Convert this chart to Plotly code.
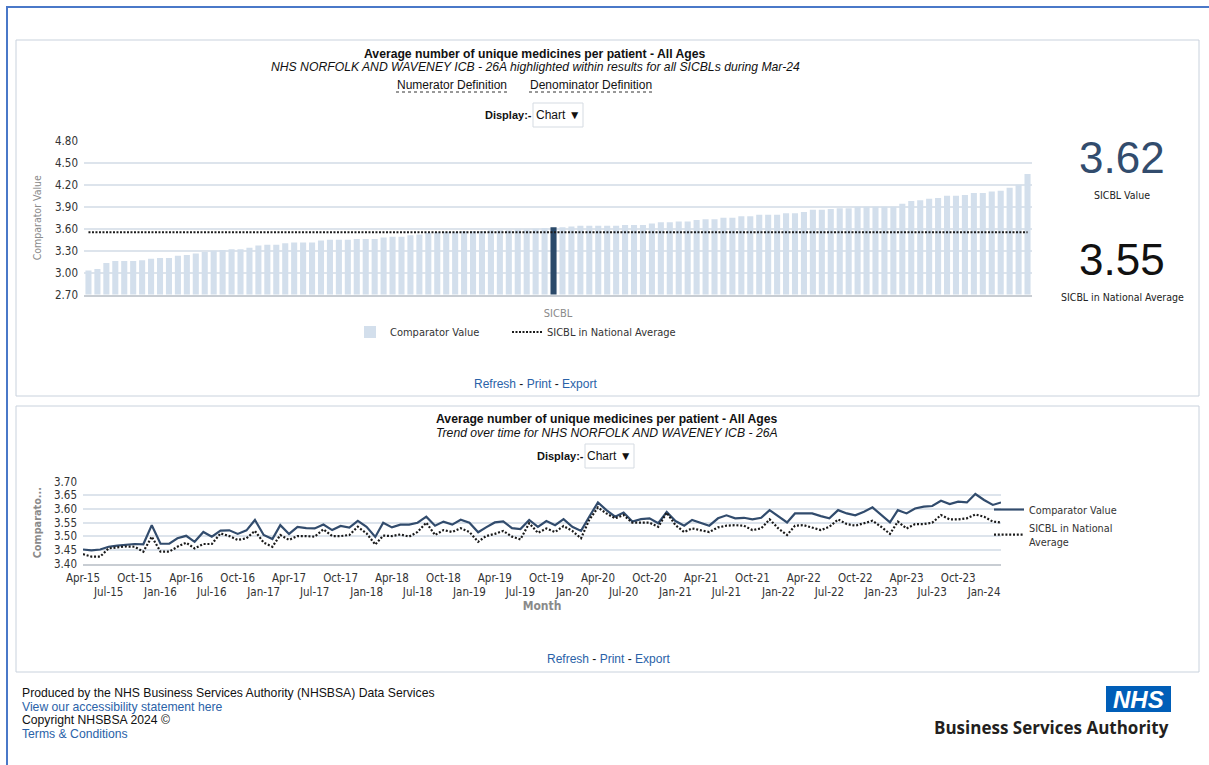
import plotly.graph_objects as go
import pandas as pd

# ---------------- DATA ----------------
sicbl_values = [
    3.03, 3.05, 3.13, 3.16, 3.16, 3.16, 3.17, 3.19, 3.20, 3.20,
    3.23, 3.24, 3.26, 3.28, 3.30, 3.31, 3.32, 3.32, 3.34, 3.37,
    3.38, 3.38, 3.40, 3.41, 3.41, 3.41, 3.44, 3.45, 3.45, 3.45,
    3.46, 3.46, 3.46, 3.48, 3.49, 3.49, 3.51, 3.52, 3.54, 3.55,
    3.56, 3.56, 3.57, 3.57, 3.57, 3.58, 3.58, 3.58, 3.59, 3.59,
    3.60, 3.61, 3.62, 3.62, 3.63, 3.64, 3.64, 3.64, 3.64, 3.64,
    3.65, 3.65, 3.65, 3.67, 3.69, 3.69, 3.70, 3.70, 3.72, 3.73,
    3.73, 3.75, 3.75, 3.77, 3.77, 3.79, 3.79, 3.79, 3.81, 3.81,
    3.83, 3.86, 3.86, 3.87, 3.88, 3.88, 3.90, 3.90, 3.90, 3.90,
    3.90, 3.94, 3.98, 3.99, 4.01, 4.02, 4.05, 4.05, 4.06, 4.09,
    4.09, 4.11, 4.12, 4.16, 4.20, 4.35,
]
sicbl_names = [f"SICBL {i + 1}" for i in range(len(sicbl_values))]
highlight_index = 52
sicbl_value = 3.62
national_average = 3.55

bar_y_ticks = [2.70, 3.00, 3.30, 3.60, 3.90, 4.20, 4.50, 4.80]

months = pd.date_range("2015-04-01", "2024-03-01", freq="MS")

comparator_trend = [
    3.452, 3.449, 3.452, 3.462, 3.466, 3.470, 3.472, 3.471, 3.541, 3.473,
    3.473, 3.493, 3.502, 3.480, 3.516, 3.499, 3.521, 3.522, 3.509, 3.522,
    3.560, 3.505, 3.490, 3.541, 3.509, 3.535, 3.530, 3.529, 3.543, 3.523,
    3.538, 3.532, 3.557, 3.535, 3.498, 3.550, 3.533, 3.543, 3.543, 3.550,
    3.572, 3.539, 3.554, 3.543, 3.561, 3.550, 3.515, 3.533, 3.551, 3.555,
    3.530, 3.527, 3.560, 3.535, 3.556, 3.541, 3.563, 3.535, 3.520, 3.572,
    3.624, 3.596, 3.572, 3.587, 3.554, 3.563, 3.566, 3.548, 3.589, 3.556,
    3.539, 3.560, 3.550, 3.539, 3.566, 3.577, 3.566, 3.568, 3.562, 3.568,
    3.596, 3.572, 3.551, 3.584, 3.584, 3.584, 3.574, 3.566, 3.596, 3.584,
    3.577, 3.590, 3.606, 3.578, 3.551, 3.596, 3.584, 3.602, 3.609, 3.611,
    3.630, 3.618, 3.627, 3.624, 3.655, 3.633, 3.615, 3.624,
]
national_trend = [
    3.435, 3.426, 3.426, 3.456, 3.460, 3.463, 3.462, 3.444, 3.499, 3.444,
    3.444, 3.462, 3.477, 3.456, 3.472, 3.472, 3.511, 3.501, 3.487, 3.493,
    3.520, 3.477, 3.462, 3.505, 3.487, 3.501, 3.501, 3.499, 3.526, 3.501,
    3.501, 3.505, 3.535, 3.511, 3.470, 3.503, 3.501, 3.507, 3.499, 3.516,
    3.550, 3.505, 3.523, 3.516, 3.530, 3.516, 3.480, 3.501, 3.509, 3.520,
    3.499, 3.489, 3.548, 3.513, 3.529, 3.516, 3.538, 3.520, 3.493, 3.560,
    3.606, 3.584, 3.566, 3.578, 3.550, 3.550, 3.550, 3.535, 3.587, 3.541,
    3.516, 3.529, 3.523, 3.516, 3.533, 3.539, 3.541, 3.539, 3.523, 3.529,
    3.562, 3.529, 3.505, 3.539, 3.541, 3.533, 3.523, 3.535, 3.562, 3.545,
    3.539, 3.548, 3.557, 3.535, 3.509, 3.554, 3.529, 3.545, 3.545, 3.550,
    3.578, 3.562, 3.562, 3.566, 3.580, 3.572, 3.554, 3.551,
]

trend_tick_labels = [
    "Apr-15", "Jul-15", "Oct-15", "Jan-16", "Apr-16", "Jul-16", "Oct-16", "Jan-17",
    "Apr-17", "Jul-17", "Oct-17", "Jan-18", "Apr-18", "Jul-18", "Oct-18", "Jan-19",
    "Apr-19", "Jul-19", "Oct-19", "Jan-20", "Apr-20", "Jul-20", "Oct-20", "Jan-21",
    "Apr-21", "Jul-21", "Oct-21", "Jan-22", "Apr-22", "Jul-22", "Oct-22", "Jan-23",
    "Apr-23", "Jul-23", "Oct-23", "Jan-24",
]
trend_y_ticks = [3.40, 3.45, 3.50, 3.55, 3.60, 3.65, 3.70]

# ---------------- STYLE ----------------
W, H = 1209, 765
FONT = "Liberation Sans, Arial, sans-serif"
TFONT = "DejaVu Sans Condensed, DejaVu Sans, sans-serif"
LIGHT_BAR = "#d3dfec"
DARK_BAR = "#2b4a6a"
LINE_BLUE = "#324c6d"
GRID = "#dde4ec"
LINK = "#2a62a8"


def px(x):
    return x / W


def py(y):
    return 1 - y / H


bar_colors = [DARK_BAR if i == highlight_index else LIGHT_BAR for i in range(len(sicbl_values))]

fig = go.Figure()

# Top bar chart
fig.add_trace(go.Bar(
    x=sicbl_names, y=sicbl_values, name="Comparator Value",
    marker=dict(color=bar_colors, line=dict(width=0)),
    xaxis="x", yaxis="y", legend="legend", showlegend=True,
))
fig.add_trace(go.Scatter(
    x=sicbl_names, y=[national_average] * len(sicbl_names), name="SICBL in National Average",
    mode="lines", line=dict(color="#1a1a1a", width=2, dash="2px,1.5px"),
    xaxis="x", yaxis="y", legend="legend3",
))

# Bottom trend chart
fig.add_trace(go.Scatter(
    x=months, y=comparator_trend, name="Comparator Value", mode="lines",
    line=dict(color=LINE_BLUE, width=2.2), xaxis="x2", yaxis="y2", legend="legend2",
))
fig.add_trace(go.Scatter(
    x=months, y=national_trend, name="SICBL in National<br>Average", mode="lines",
    line=dict(color="#1a1a1a", width=2.2, dash="2px,1.8px"), xaxis="x2", yaxis="y2", legend="legend2",
))

tick_dates = months[::3]
tick_text = [lab if i % 2 == 0 else "<br>" + lab for i, lab in enumerate(trend_tick_labels)]

LEG_FONT = dict(family=TFONT, size=11, color="#333")

fig.update_layout(
    width=W, height=H, margin=dict(l=0, r=0, t=0, b=0, autoexpand=False),
    paper_bgcolor="white", plot_bgcolor="white",
    font=dict(family=FONT, size=11, color="#222"),
    bargap=0.32,
    xaxis=dict(
        domain=[px(84), px(1032)], showticklabels=False, showgrid=False, zeroline=False,
        showline=True, linecolor="#c8cdd3", linewidth=2, range=[-0.5, len(sicbl_values) - 0.5],
        title=dict(text="SICBL", font=dict(family=TFONT, size=11, color="#8a8a8a"), standoff=14),
        fixedrange=True, automargin=False,
    ),
    yaxis=dict(
        domain=[py(294.5), py(141)], range=[2.70, 4.80], tickvals=bar_y_ticks,
        tickformat=".2f", showgrid=True, gridcolor=GRID, gridwidth=1.5, zeroline=False,
        tickfont=dict(family=TFONT, size=11.5, color="#333"), ticklabelstandoff=5,
        title=dict(text="Comparator Value", font=dict(family=TFONT, size=10.5, color="#8a8a8a"), standoff=11),
        automargin=False,
    ),
    xaxis2=dict(
        domain=[px(83), px(1001)], range=[months[0], months[-1]], anchor="y2",
        tickvals=tick_dates, ticktext=tick_text, tickangle=0,
        showgrid=False, zeroline=False, showline=True, linecolor="#c8cdd3", linewidth=2,
        tickfont=dict(family=TFONT, size=11.5, color="#333"), ticklabelstandoff=2,
        title=dict(text="<b>Month</b>", font=dict(family=TFONT, size=12, color="#8a8a8a"), standoff=1),
        automargin=False,
    ),
    yaxis2=dict(
        domain=[py(563.7), py(481.7)], range=[3.40, 3.70], tickvals=trend_y_ticks,
        tickformat=".2f", showgrid=True, gridcolor=GRID, gridwidth=1.5, zeroline=False, anchor="x2",
        tickfont=dict(family=TFONT, size=11.5, color="#333"), ticklabelstandoff=5,
        title=dict(text="<b>Comparato...</b>", font=dict(family=TFONT, size=10.8, color="#8a8a8a"), standoff=10),
        automargin=False,
    ),
    legend=dict(
        orientation="h", x=px(350), y=py(332), xanchor="left", yanchor="middle",
        font=LEG_FONT, itemwidth=30, bgcolor="rgba(0,0,0,0)",
    ),
    legend3=dict(
        orientation="h", x=px(507), y=py(332), xanchor="left", yanchor="middle",
        font=LEG_FONT, itemwidth=30, bgcolor="rgba(0,0,0,0)",
    ),
    legend2=dict(
        orientation="v", x=px(989), y=py(495), xanchor="left", yanchor="top",
        font=dict(family=TFONT, size=10.8, color="#333"), itemwidth=30,
        bgcolor="rgba(0,0,0,0)", tracegroupgap=0,
    ),
    showlegend=True,
)

shapes = []
# outer page frame
shapes.append(dict(type="line", xref="paper", yref="paper", x0=px(7), x1=px(7), y0=py(6), y1=py(765),
                   line=dict(color="#4a78c8", width=2)))
shapes.append(dict(type="line", xref="paper", yref="paper", x0=px(6), x1=px(1209), y0=py(7), y1=py(7),
                   line=dict(color="#4a78c8", width=2)))
# panels
for (x0, y0, x1, y1) in [(16, 40, 1199, 396), (16, 406, 1199, 672)]:
    shapes.append(dict(type="rect", xref="paper", yref="paper", x0=px(x0), x1=px(x1), y0=py(y1), y1=py(y0),
                       line=dict(color="#c9d2dd", width=1), fillcolor="rgba(0,0,0,0)", layer="below"))
# dotted underline for definitions
for (x0, x1) in [(396, 508), (529, 653)]:
    shapes.append(dict(type="line", xref="paper", yref="paper", x0=px(x0), x1=px(x1), y0=py(92), y1=py(92),
                       line=dict(color="#333", width=1, dash="dot")))
# dropdown boxes
for (x0, y0, x1, y1) in [(533, 103, 583, 127), (585, 444, 634, 468)]:
    shapes.append(dict(type="rect", xref="paper", yref="paper", x0=px(x0), x1=px(x1), y0=py(y1), y1=py(y0),
                       line=dict(color="#d5dbe2", width=1), fillcolor="white"))
# NHS logo box
shapes.append(dict(type="rect", xref="paper", yref="paper", x0=px(1106), x1=px(1171), y0=py(712), y1=py(686),
                   line=dict(width=0), fillcolor="#005eb8"))
fig.update_layout(shapes=shapes)


def ann(text, x, y, size=12, color="#111", xanchor="center", family=FONT, yanchor="middle"):
    return dict(text=text, x=px(x), y=py(y), xref="paper", yref="paper", showarrow=False,
                xanchor=xanchor, yanchor=yanchor, font=dict(family=family, size=size, color=color),
                borderpad=0)


annotations = [
    ann("<b>Average number of unique medicines per patient - All Ages</b>", 535, 54, 12.2),
    ann("<i>NHS NORFOLK AND WAVENEY ICB - 26A highlighted within results for all SICBLs during Mar-24</i>", 535, 67, 12.2),
    ann("Numerator Definition", 452, 85, 12),
    ann("Denominator Definition", 591, 85, 12),
    ann("<b>Display:-</b>", 508, 115, 11),
    ann("Chart \u25bc", 558, 115, 12),
    ann(f"{sicbl_value:.2f}", 1122, 158, 44, LINE_BLUE),
    ann("SICBL Value", 1122, 195, 10.5, "#222", family=TFONT),
    ann(f"{national_average:.2f}", 1122, 259, 44, "#111"),
    ann("SICBL in National Average", 1122, 297, 10.5, "#222", family=TFONT),
    ann(f'<span style="color:{LINK}">Refresh</span> - <span style="color:{LINK}">Print</span> - <span style="color:{LINK}">Export</span>', 535, 384, 12),
    ann("<b>Average number of unique medicines per patient - All Ages</b>", 607, 419, 12.2),
    ann("<i>Trend over time for NHS NORFOLK AND WAVENEY ICB - 26A</i>", 607, 433, 12.2),
    ann("<b>Display:-</b>", 560, 456, 11),
    ann("Chart \u25bc", 609, 456, 12),
    ann(f'<span style="color:{LINK}">Refresh</span> - <span style="color:{LINK}">Print</span> - <span style="color:{LINK}">Export</span>', 608, 659, 12),
    ann("Produced by the NHS Business Services Authority (NHSBSA) Data Services", 21, 693, 12.2, "#111", "left"),
    ann("View our accessibility statement here", 21, 707, 12.2, LINK, "left"),
    ann("Copyright NHSBSA 2024 \u00a9", 21, 720, 12.2, "#111", "left"),
    ann("Terms &amp; Conditions", 21, 734, 12.2, LINK, "left"),
    ann("<b><i>NHS</i></b>", 1138, 699.5, 24, "white", family="Liberation Sans, Arial"),
    ann("<b>Business Services Authority</b>", 1170, 727, 17, "#231f20", "right", family="Open Sans, sans-serif"),
]
fig.update_layout(annotations=annotations)

fig.write_html("out.html")
